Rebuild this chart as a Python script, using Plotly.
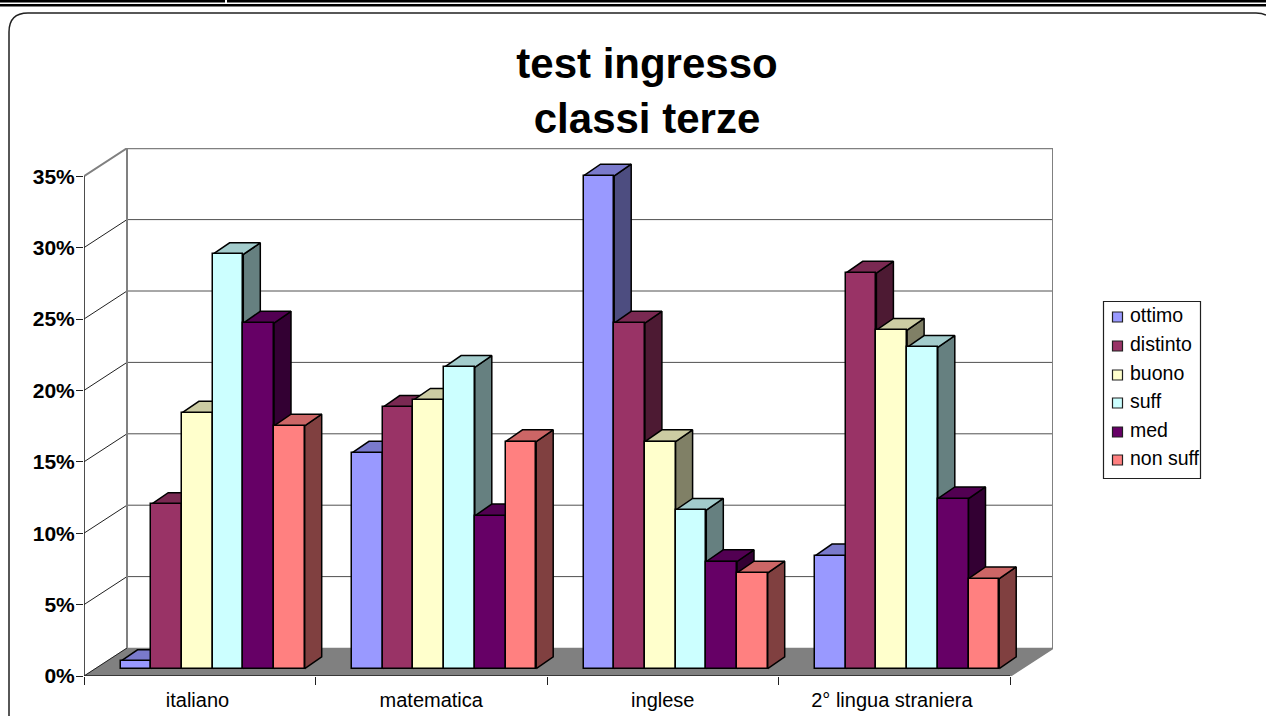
import plotly.graph_objects as go

categories = ["italiano", "matematica", "inglese", "2° lingua straniera"]
series_names = ["ottimo", "distinto", "buono", "suff", "med", "non suff"]
ottimo = [0.5, 15.1, 34.5, 7.9]
distinto = [11.5, 18.3, 24.2, 27.7]
buono = [17.9, 18.8, 15.9, 23.7]
suff = [29.0, 21.1, 11.1, 22.5]
med = [24.2, 10.7, 7.5, 11.9]
non_suff = [17.0, 15.9, 6.7, 6.3]
y_ticks = [0, 5, 10, 15, 20, 25, 30, 35]
front_colors = ["#9999FF", "#993366", "#FFFFCC", "#CCFFFF", "#660066", "#FF8080"]
top_colors = ["#7A7ACC", "#7A2952", "#CCCCA3", "#A3CCCC", "#520052", "#CC6666"]
side_colors = ["#4D4D80", "#4D1A33", "#808066", "#668080", "#330033", "#804040"]
all_values = [ottimo, distinto, buono, suff, med, non_suff]

# layout constants (pixels of the 1266x716 page)
L, R, T, B = 84, 1053, 148, 676
CAT_PX = 231.5
PCT_PX = 14.28
W, H = 1266, 716
WALL_DX = 43 / CAT_PX
WALL_DY = 28 / PCT_PX
BAR_LIFT = 7.4 / PCT_PX
BAR_W = 30.7 / CAT_PX
BAR_START = 36.5 / CAT_PX
SIDE_DX = 17 / CAT_PX
SIDE_DY = 11.7 / PCT_PX
x_max = (R - L) / CAT_PX
y_max = (B - T) / PCT_PX
label_positions = [0.49, 1.5, 2.5, 3.49]
legend_rows_px = [316, 345, 374, 402, 431, 459]


def px(x):
    return (x - L) / (R - L)


def py(y):
    return (B - y) / (B - T)


def frame_path():
    s = f"M {px(9)} {py(716)} L {px(9)} {py(32)} "
    s += f"Q {px(9)} {py(13)} {px(28)} {py(13)} "
    s += f"L {px(1256)} {py(13)} Q {px(1262)} {py(13)} {px(1266)} {py(15)}"
    return s


fig = go.Figure()
NOHOVER = dict(hoverinfo="skip", showlegend=False)

# floor
fig.add_trace(go.Scatter(
    x=[0, WALL_DX, x_max, x_max - WALL_DX, 0], y=[0, WALL_DY, WALL_DY, 0, 0],
    mode="lines", fill="toself", fillcolor="#808080", line=dict(color="#808080", width=0.5),
    cliponaxis=False, **NOHOVER))

# back wall grid lines and left wall diagonals
gx, gy, dx_, dy_ = [], [], [], []
for t in y_ticks[1:-1]:
    gx += [WALL_DX, x_max, None]
    gy += [t + WALL_DY, t + WALL_DY, None]
for t in y_ticks[:-1]:
    dx_ += [0, WALL_DX, None]
    dy_ += [t, t + WALL_DY, None]
fig.add_trace(go.Scatter(x=gx, y=gy, mode="lines", line=dict(color="#505050", width=1),
                         cliponaxis=False, **NOHOVER))
fig.add_trace(go.Scatter(x=dx_, y=dy_, mode="lines", line=dict(color="#202020", width=1),
                         cliponaxis=False, **NOHOVER))
# wall outline
top_val = y_ticks[-1]
fig.add_trace(go.Scatter(
    x=[x_max - WALL_DX, x_max, x_max, WALL_DX, 0, None, WALL_DX, WALL_DX],
    y=[0, WALL_DY, top_val + WALL_DY, top_val + WALL_DY, top_val, None, WALL_DY, top_val + WALL_DY],
    mode="lines", line=dict(color="#808080", width=2), cliponaxis=False, **NOHOVER))
# front axes
fig.add_trace(go.Scatter(x=[0, 0, None, 0, len(categories)], y=[0, top_val, None, 0, 0], mode="lines",
                         line=dict(color="#202020", width=1.6), cliponaxis=False, **NOHOVER))


def bar_left(cat_index, s_index):
    return cat_index + BAR_START + s_index * BAR_W


# side faces
for s, vals in enumerate(all_values):
    xs, ys = [], []
    for c, v in enumerate(vals):
        xr = bar_left(c, s) + BAR_W
        y0, y1 = BAR_LIFT, BAR_LIFT + v
        xs += [xr, xr + SIDE_DX, xr + SIDE_DX, xr, xr, None]
        ys += [y0, y0 + SIDE_DY, y1 + SIDE_DY, y1, y0, None]
    fig.add_trace(go.Scatter(x=xs, y=ys, mode="lines", fill="toself", fillcolor=side_colors[s],
                             line=dict(color="#000000", width=1.5), cliponaxis=False, **NOHOVER))
# top faces
for s, vals in enumerate(all_values):
    xs, ys = [], []
    for c, v in enumerate(vals):
        xl = bar_left(c, s)
        y1 = BAR_LIFT + v
        xs += [xl, xl + SIDE_DX, xl + BAR_W + SIDE_DX, xl + BAR_W, xl, None]
        ys += [y1, y1 + SIDE_DY, y1 + SIDE_DY, y1, y1, None]
    fig.add_trace(go.Scatter(x=xs, y=ys, mode="lines", fill="toself", fillcolor=top_colors[s],
                             line=dict(color="#000000", width=1.5), cliponaxis=False, **NOHOVER))
# front faces
for s, vals in enumerate(all_values):
    fig.add_trace(go.Bar(
        name=series_names[s], showlegend=False,
        x=[bar_left(c, s) + BAR_W / 2 for c in range(len(categories))],
        y=vals, base=[BAR_LIFT] * len(vals), width=BAR_W,
        marker=dict(color=front_colors[s], line=dict(color="#000000", width=1.5)),
        xaxis="x2", yaxis="y2",
        customdata=categories, hovertemplate="%{customdata}: %{y}%<extra>" + series_names[s] + "</extra>",
    ))

FONT = "Liberation Sans, Arial, sans-serif"
shapes = [
    dict(type="rect", xref="paper", yref="paper", x0=px(0), x1=px(225), y0=py(-1), y1=py(2.6),
         fillcolor="#000", line=dict(width=0)),
    dict(type="rect", xref="paper", yref="paper", x0=px(227), x1=px(1266), y0=py(-1), y1=py(2.6),
         fillcolor="#000", line=dict(width=0)),
    dict(type="rect", xref="paper", yref="paper", x0=px(0), x1=px(1266), y0=py(3.9), y1=py(6.4),
         fillcolor="#000", line=dict(width=0)),
    dict(type="path", xref="paper", yref="paper", path=frame_path(),
         line=dict(color="#202020", width=1.5)),
    # legend box
    dict(type="rect", xref="paper", yref="paper", x0=px(1103.5), x1=px(1200.5), y0=py(301.5), y1=py(478.5),
         fillcolor="#FFFFFF", line=dict(color="#202020", width=1.2)),
]
annotations = []
for name, color, row in zip(series_names, front_colors, legend_rows_px):
    shapes.append(dict(type="rect", xref="paper", yref="paper", x0=px(1112.5), x1=px(1122.5),
                       y0=py(row - 4), y1=py(row + 6), fillcolor=color,
                       line=dict(color="#202020", width=1.2)))
    annotations.append(dict(text=name, xref="paper", yref="paper", x=px(1130), y=py(row - 1),
                            xanchor="left", yanchor="middle", showarrow=False, xshift=-2,
                            font=dict(size=19.5, family=FONT, color="#000000")))

fig.update_layout(
    width=W, height=H, autosize=False, showlegend=False,
    margin=dict(l=L, r=W - R, t=T, b=H - B, pad=0, autoexpand=False),
    paper_bgcolor="#FFFFFF", plot_bgcolor="#FFFFFF",
    barmode="overlay", bargap=0,
    font=dict(family=FONT, color="#000000", size=20),
    title=dict(text="<b>test ingresso<br>classi terze</b>", x=647 / W, xanchor="center",
               y=1 - 78 / H, yanchor="top", yref="container", font=dict(size=42, family=FONT)),
    xaxis=dict(range=[0, x_max], showgrid=False, zeroline=False, showline=False,
               tickmode="array", tickvals=label_positions, ticktext=categories,
               ticks="outside", ticklen=6, tickcolor="rgba(0,0,0,0)", tickfont=dict(size=20),
               minor=dict(tickmode="array", tickvals=list(range(len(categories) + 1)), ticks="outside",
                          ticklen=8, tickcolor="#202020", tickwidth=1.2, showgrid=False)),
    yaxis=dict(range=[0, y_max], showgrid=False, zeroline=False, showline=False,
               tickmode="array", tickvals=y_ticks, ticktext=[f"{t}%" for t in y_ticks],
               ticks="outside", ticklen=7, tickcolor="#202020", tickwidth=1.2, ticklabelstandoff=-3,
               tickfont=dict(size=21, family=FONT, weight="bold")),
    xaxis2=dict(overlaying="x", range=[0, x_max], visible=False),
    yaxis2=dict(overlaying="y", range=[0, y_max], visible=False),
    shapes=shapes, annotations=annotations,
)

fig.write_html("out.html", post_script="document.body.style.margin='0';",
               config={"displayModeBar": False})
